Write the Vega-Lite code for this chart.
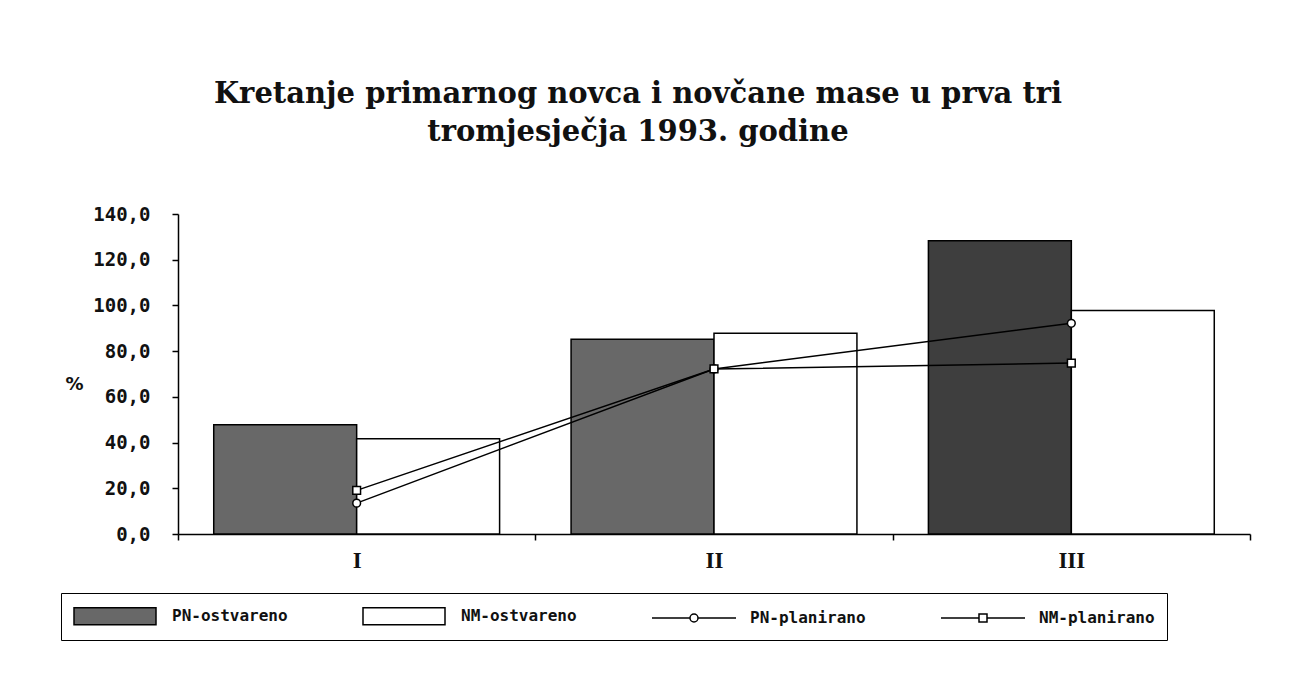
{
  "$schema": "https://vega.github.io/schema/vega-lite/v6.json",
  "autosize": "none",
  "width": 1072,
  "height": 320,
  "padding": {"left": 178, "top": 214, "right": 45, "bottom": 154},
  "background": "white",
  "config": {"view": {"stroke": null}},
  "title": {
    "text": ["Kretanje primarnog novca i novčane mase u prva tri", "tromjesječja 1993. godine"],
    "font": "DejaVu Serif",
    "fontSize": 29,
    "fontWeight": "bold",
    "color": "#111111",
    "anchor": "middle",
    "dx": -76,
    "offset": 58,
    "lineHeight": 38
  },
  "data": {
    "values": [
      {"q": "I", "series": "PN-ostvareno", "kind": "bar", "value": 47.8},
      {"q": "I", "series": "NM-ostvareno", "kind": "bar", "value": 41.7},
      {"q": "II", "series": "PN-ostvareno", "kind": "bar", "value": 85.2},
      {"q": "II", "series": "NM-ostvareno", "kind": "bar", "value": 87.8},
      {"q": "III", "series": "PN-ostvareno", "kind": "bar", "value": 128.3},
      {"q": "III", "series": "NM-ostvareno", "kind": "bar", "value": 97.8},
      {"q": "I", "series": "PN-planirano", "kind": "line", "value": 13.5},
      {"q": "II", "series": "PN-planirano", "kind": "line", "value": 72.2},
      {"q": "III", "series": "PN-planirano", "kind": "line", "value": 92.2},
      {"q": "I", "series": "NM-planirano", "kind": "line", "value": 19.1},
      {"q": "II", "series": "NM-planirano", "kind": "line", "value": 72.2},
      {"q": "III", "series": "NM-planirano", "kind": "line", "value": 74.8}
    ]
  },
  "encoding": {
    "x": {
      "field": "q",
      "type": "nominal",
      "sort": ["I", "II", "III"],
      "scale": {"paddingInner": 0, "paddingOuter": 0},
      "axis": {
        "title": null,
        "labelAngle": 0,
        "labelFont": "Liberation Serif",
        "labelFontSize": 23,
        "labelFontWeight": "bold",
        "labelColor": "#111111",
        "labelPadding": 9,
        "tickBand": "extent",
        "tickSize": 6,
        "tickColor": "black",
        "tickWidth": 1.5,
        "domainColor": "black",
        "domainWidth": 1.5,
        "grid": false
      }
    },
    "y": {
      "field": "value",
      "type": "quantitative",
      "scale": {"domain": [0, 140], "nice": false},
      "axis": {
        "title": "%",
        "titleAngle": 0,
        "titleX": -104,
        "titleY": 170,
        "titleAlign": "center",
        "titleBaseline": "middle",
        "titleFont": "DejaVu Sans",
        "titleFontSize": 18,
        "titleFontWeight": "bold",
        "titleColor": "#111111",
        "values": [0, 20, 40, 60, 80, 100, 120, 140],
        "labelExpr": "replace(format(datum.value, '.1f'), '.', ',')",
        "labelFont": "DejaVu Sans Mono",
        "labelFontSize": 19,
        "labelFontWeight": "bold",
        "labelColor": "#111111",
        "labelPadding": 22,
        "tickSize": 6,
        "tickColor": "black",
        "tickWidth": 1.5,
        "domainColor": "black",
        "domainWidth": 1.5,
        "grid": false
      }
    }
  },
  "layer": [
    {
      "transform": [{"filter": "datum.kind === 'bar'"}],
      "mark": {"type": "bar", "stroke": "black", "strokeWidth": 1.5},
      "encoding": {
        "xOffset": {
          "field": "series",
          "type": "nominal",
          "sort": ["PN-ostvareno", "NM-ostvareno"],
          "scale": {"domain": ["PN-ostvareno", "NM-ostvareno"], "paddingInner": 0, "paddingOuter": 0.25}
        },
        "fill": {
          "condition": {"test": "datum.q === 'III' && datum.series === 'PN-ostvareno'", "value": "#3e3e3e"},
          "field": "series",
          "type": "nominal",
          "scale": {
            "domain": ["PN-ostvareno", "NM-ostvareno", "PN-planirano", "NM-planirano"],
            "range": ["#686868", "#ffffff", "#ffffff", "#ffffff"]
          },
          "legend": {
            "title": null,
            "orient": "none",
            "legendX": -117,
            "legendY": 379,
            "direction": "horizontal",
            "columns": 4,
            "columnPadding": 72,
            "padding": 12,
            "strokeColor": "black",
            "fillColor": "white",
            "symbolSize": 400,
            "symbolStrokeColor": "black",
            "symbolStrokeWidth": 1.5,
            "symbolOpacity": 1,
            "symbolType": {"expr": "datum.value === 'PN-planirano' ? 'M-1,0H2.8M3.6,0H7.4M3.6,0A0.4,0.4,0,1,1,2.8,0A0.4,0.4,0,1,1,3.6,0' : datum.value === 'NM-planirano' ? 'M-1,0H2.8M3.6,0H7.4M2.8,-0.4H3.6V0.4H2.8Z' : 'M-1,-0.85H7.2V0.85H-1Z'"},
            "labelOffset": 77,
            "labelFont": "DejaVu Sans Mono",
            "labelFontSize": 16,
            "labelFontWeight": "bold",
            "labelColor": "#111111",
            "labelLimit": 300
          }
        }
      }
    },
    {
      "transform": [{"filter": "datum.kind === 'line'"}],
      "mark": {"type": "line", "color": "black", "strokeWidth": 1.5},
      "encoding": {
        "detail": {"field": "series", "type": "nominal"}
      }
    },
    {
      "transform": [{"filter": "datum.kind === 'line'"}],
      "mark": {"type": "point", "filled": true, "fill": "white", "stroke": "black", "strokeWidth": 1.5, "size": 60, "opacity": 1},
      "encoding": {
        "shape": {
          "field": "series",
          "type": "nominal",
          "scale": {"domain": ["PN-planirano", "NM-planirano"], "range": ["circle", "square"]},
          "legend": null
        }
      }
    }
  ]
}
